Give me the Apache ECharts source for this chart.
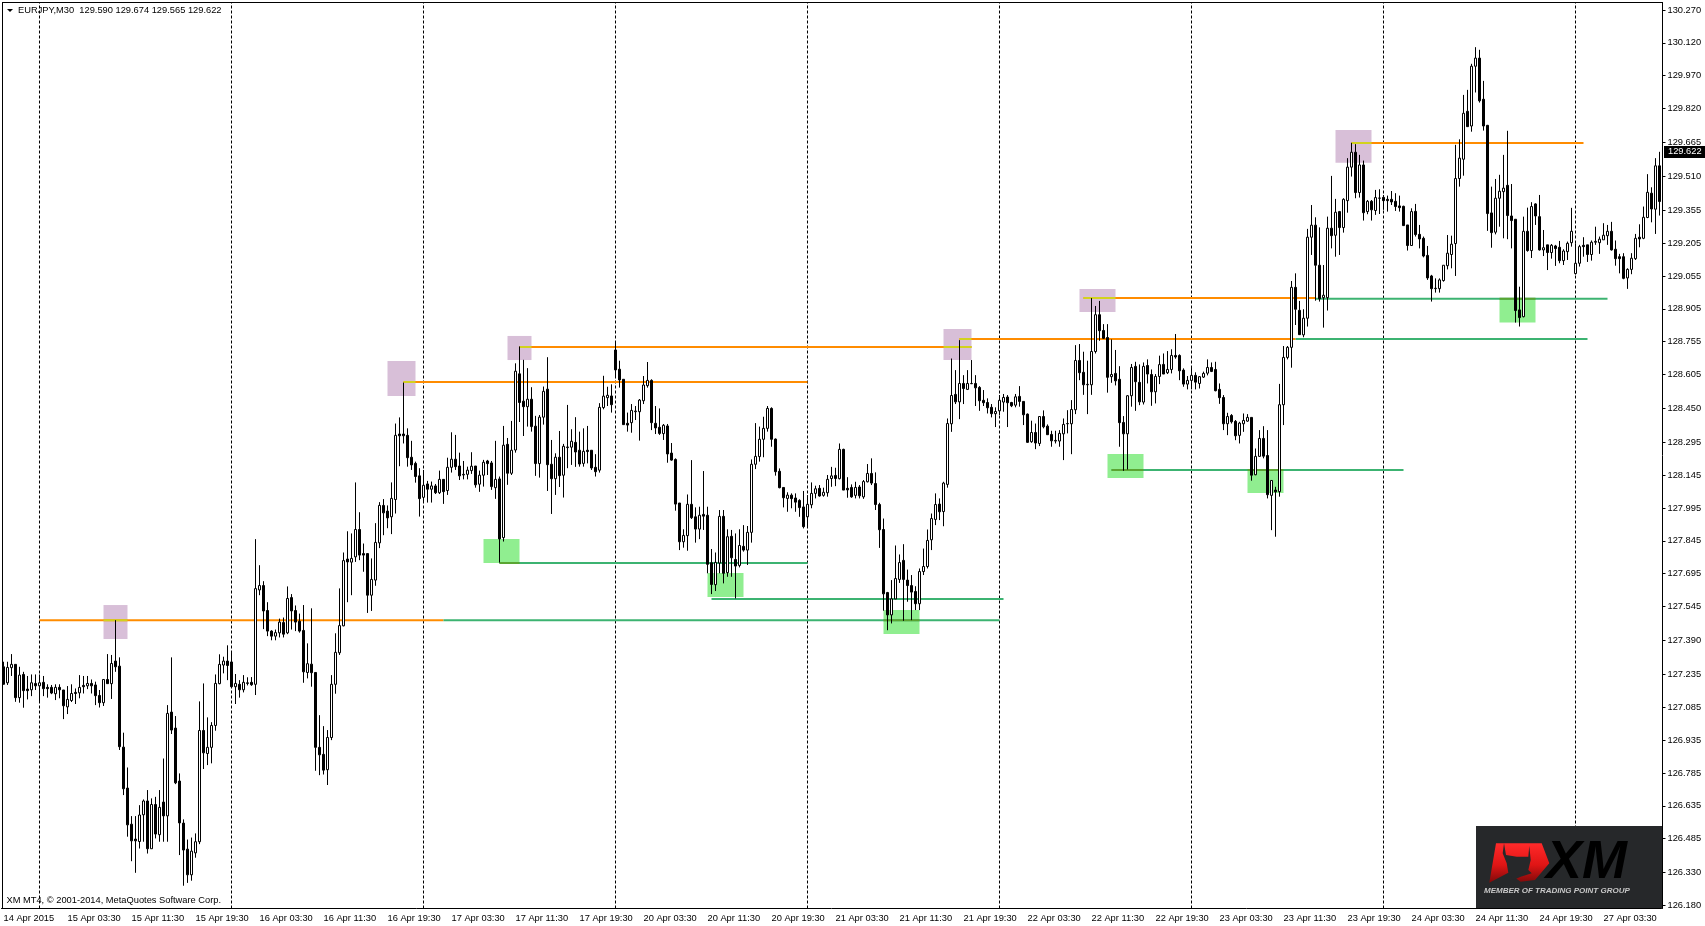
<!DOCTYPE html>
<html><head><meta charset="utf-8"><style>html,body{margin:0;padding:0;background:#fff}#c{width:1705px;height:926px}</style>
<script src="https://cdn.jsdelivr.net/npm/echarts@6/dist/echarts.min.js"></script></head><body><div id="c"></div>
<script>
// EURJPY M30 bars, one list per trading session, each bar is [open, close, low, high]
const bars14Apr=[[127.27,127.19,127.19,127.293],[127.197,127.267,127.187,127.293],[127.266,127.281,127.228,127.328],[127.281,127.129,127.11,127.281],[127.129,127.232,127.106,127.27],[127.235,127.161,127.083,127.247],[127.168,127.161,127.121,127.228],[127.165,127.197,127.136,127.235],[127.194,127.183,127.164,127.235]];
const bars15Apr=[[127.183,127.197,127.113,127.235],[127.199,127.17,127.136,127.228],[127.176,127.17,127.129,127.19],[127.176,127.15,127.145,127.187],[127.147,127.176,127.118,127.19],[127.176,127.165,127.126,127.19],[127.164,127.092,127.031,127.164],[127.087,127.121,127.054,127.182],[127.116,127.148,127.109,127.19],[127.153,127.148,127.1,127.171],[127.151,127.176,127.126,127.232],[127.185,127.179,127.148,127.228],[127.183,127.194,127.168,127.228],[127.194,127.183,127.148,127.212],[127.187,127.138,127.095,127.202],[127.139,127.106,127.084,127.164],[127.106,127.212,127.091,127.212],[127.212,127.193,127.193,127.328],[127.193,127.285,127.123,127.324],[127.296,127.27,127.247,127.483],[127.273,126.905,126.89,127.313],[126.903,126.713,126.684,126.969],[126.716,126.548,126.494,126.81],[126.551,126.475,126.382,126.588],[126.483,126.475,126.329,126.588],[126.472,126.593,126.44,126.638],[126.594,126.657,126.471,126.664],[126.657,126.439,126.417,126.707],[126.439,126.641,126.439,126.669],[126.641,126.506,126.486,126.676],[126.503,126.628,126.471,126.707],[126.652,126.589,126.471,126.851],[126.589,127.057,126.471,127.095],[127.063,126.981,126.963,127.313],[126.99,126.74,126.734,127.045],[126.748,126.557,126.41,126.783],[126.556,126.433,126.27,126.573],[126.437,126.32,126.283,126.481],[126.32,126.428,126.293,126.49],[126.42,126.471,126.398,126.509],[126.471,126.979,126.46,127.112],[126.979,126.877,126.803,127.194],[126.874,126.902,126.821,127.039],[126.902,127.002,126.829,127.017],[127.002,127.194,126.978,127.235],[127.193,127.281,127.19,127.327],[127.278,127.296,127.24,127.316],[127.296,127.276,127.209,127.368]];
const bars16Apr=[[127.292,127.179,127.176,127.342],[127.179,127.194,127.1,127.237],[127.19,127.165,127.129,127.209],[127.165,127.199,127.153,127.232],[127.194,127.197,127.185,127.222],[127.199,127.188,127.183,127.223],[127.19,127.627,127.141,127.853],[127.621,127.641,127.597,127.734],[127.641,127.525,127.442,127.661],[127.527,127.433,127.41,127.565],[127.433,127.41,127.391,127.437],[127.41,127.426,127.391,127.44],[127.425,127.474,127.404,127.49],[127.472,127.419,127.404,127.495],[127.425,127.582,127.419,127.637],[127.586,127.525,127.44,127.602],[127.527,127.474,127.433,127.55],[127.478,127.433,127.426,127.513],[127.436,127.247,127.197,127.552],[127.244,127.284,127.217,127.377],[127.282,127.243,127.179,127.537],[127.244,126.902,126.795,127.244],[126.902,126.868,126.775,127.049],[126.87,126.798,126.778,126.999],[126.8,126.947,126.73,126.981],[126.947,127.19,126.935,127.232],[127.19,127.336,127.147,127.423],[127.334,127.458,127.324,127.628],[127.457,127.755,127.455,127.792],[127.762,127.749,127.565,127.889],[127.748,127.765,127.597,127.879],[127.772,127.897,127.749,128.112],[127.897,127.78,127.757,127.976],[127.787,127.78,127.704,127.833],[127.787,127.597,127.516,127.787],[127.597,127.669,127.525,127.765],[127.666,127.838,127.64,127.926],[127.836,128.007,127.812,128.022],[128.007,127.973,127.871,128.036],[127.981,127.95,127.903,128.007],[127.955,128.039,127.876,128.112],[128.034,128.327,127.97,128.381],[128.333,128.325,128.186,128.409],[128.333,128.325,128.29,128.568],[128.327,128.225,128.184,128.359],[128.227,128.192,128.169,128.302],[128.199,128.139,128.111,128.207],[128.142,128.038,127.956,128.177]];
const bars17Apr=[[128.044,128.099,128.02,128.169],[128.105,128.081,128.02,128.119],[128.081,128.096,128.02,128.116],[128.096,128.065,128.059,128.105],[128.065,128.126,128.059,128.166],[128.126,128.07,128.014,128.126],[128.075,128.181,128.055,128.225],[128.181,128.218,128.157,128.341],[128.218,128.184,128.169,128.329],[128.187,128.142,128.123,128.248],[128.146,128.149,128.126,128.21],[128.149,128.168,128.126,128.184],[128.166,128.186,128.151,128.25],[128.187,128.101,128.088,128.187],[128.104,128.145,128.069,128.166],[128.145,128.204,128.093,128.215],[128.21,128.198,128.146,128.215],[128.201,128.093,128.078,128.21],[128.088,128.126,128.037,128.302],[128.128,127.854,127.746,128.139],[127.86,128.282,127.842,128.37],[128.286,128.154,128.101,128.315],[128.154,128.259,128.146,128.393],[128.26,128.62,128.248,128.656],[128.608,128.477,128.388,128.733],[128.483,128.458,128.324,128.672],[128.458,128.492,128.367,128.634],[128.492,128.367,128.344,128.547],[128.369,128.198,128.142,128.416],[128.198,128.41,128.134,128.42],[128.41,128.528,128.376,128.55],[128.538,128.193,128.073,128.684],[128.195,128.129,127.968,128.306],[128.129,128.227,128.055,128.245],[128.227,128.143,128.091,128.347],[128.145,128.277,128.043,128.288],[128.271,128.274,128.177,128.466],[128.273,128.3,128.192,128.355],[128.295,128.251,128.183,128.41],[128.259,128.196,128.184,128.344],[128.199,128.254,128.184,128.359],[128.259,128.253,128.199,128.37],[128.259,128.178,128.169,128.259],[128.181,128.161,128.139,128.241],[128.168,128.455,128.157,128.474],[128.454,128.506,128.446,128.599],[128.499,128.51,128.461,128.549],[128.507,128.467,128.431,128.56]];
const bars20Apr=[[128.717,128.626,128.592,128.755],[128.629,128.58,128.545,128.668],[128.583,128.376,128.376,128.583],[128.382,128.374,128.344,128.431],[128.385,128.441,128.339,128.47],[128.435,128.438,128.397,128.461],[128.435,128.488,128.303,128.493],[128.485,128.557,128.47,128.598],[128.554,128.578,128.545,128.662],[128.578,128.385,128.351,128.583],[128.382,128.361,128.333,128.461],[128.364,128.336,128.329,128.45],[128.335,128.373,128.306,128.379],[128.37,128.242,128.202,128.379],[128.246,128.214,128.211,128.292],[128.217,128.013,127.983,128.222],[128.018,127.841,127.803,128.018],[127.841,127.87,127.814,127.898],[127.869,128.012,127.8,128.057],[128.012,127.951,127.945,128.214],[127.955,127.899,127.837,127.998],[127.899,127.962,127.853,128.001],[127.966,127.958,127.895,128.164],[127.962,127.738,127.697,128.001],[127.745,127.646,127.602,127.808],[127.645,127.747,127.616,127.792],[127.744,127.957,127.697,127.986],[127.957,127.697,127.651,127.986],[127.7,127.864,127.681,127.898],[127.866,127.768,127.681,127.895],[127.76,127.73,127.582,127.879],[127.733,127.824,127.724,127.898],[127.82,127.803,127.796,127.917],[127.803,127.884,127.735,127.913],[127.884,128.195,127.837,128.217],[128.195,128.231,128.173,128.383],[128.23,128.309,128.207,128.367],[128.309,128.359,128.227,128.412],[128.359,128.45,128.344,128.461],[128.45,128.309,128.275,128.455],[128.31,128.161,128.143,128.313],[128.163,128.088,128.085,128.176],[128.089,128.042,127.998,128.089],[128.039,128.054,127.978,128.067],[128.054,128.038,127.994,128.062],[128.041,128.022,127.978,128.062],[128.03,127.997,127.955,128.035],[128,127.91,127.902,128.073]];
const bars21Apr=[[127.955,128.012,127.91,128.054],[128.01,128.062,127.994,128.112],[128.062,128.083,128.039,128.097],[128.085,128.05,128.047,128.1],[128.053,128.067,128.047,128.088],[128.065,128.126,128.047,128.146],[128.13,128.142,128.092,128.183],[128.144,128.13,128.095,128.179],[128.129,128.263,128.126,128.29],[128.263,128.077,128.077,128.266],[128.085,128.078,128.042,128.136],[128.089,128.046,128.042,128.103],[128.053,128.089,128.039,128.115],[128.091,128.051,128.039,128.1],[128.046,128.116,128.037,128.123],[128.115,128.153,128.112,128.196],[128.153,128.109,128.1,128.222],[128.107,128.011,127.986,128.158],[128.011,127.896,127.813,128.019],[127.897,127.603,127.526,127.947],[127.609,127.507,127.437,127.612],[127.507,127.58,127.468,127.666],[127.58,127.673,127.579,127.824],[127.669,127.746,127.653,127.783],[127.756,127.669,127.48,127.83],[127.666,127.641,127.567,127.714],[127.641,127.611,127.483,127.689],[127.614,127.558,127.529,127.638],[127.558,127.705,127.529,127.719],[127.705,127.728,127.689,127.81],[127.728,127.847,127.719,127.897],[127.85,127.947,127.803,127.97],[127.943,128.011,127.917,128.062],[128.013,127.978,127.94,128.039],[127.979,128.109,127.912,128.115],[128.103,128.381,128.088,128.404],[128.38,128.509,128.343,128.678],[128.514,128.48,128.47,128.625],[128.48,128.564,128.401,128.762],[128.564,128.541,128.47,128.602],[128.537,128.564,128.534,128.625],[128.563,128.564,128.561,128.671],[128.564,128.544,128.461,128.602],[128.546,128.485,128.439,128.552],[128.487,128.476,128.461,128.534],[128.477,128.453,128.427,128.496],[128.455,128.426,128.409,128.47],[128.426,128.436,128.365,128.455]];
const bars22Apr=[[128.439,128.487,128.42,128.511],[128.479,128.5,128.435,128.516],[128.502,128.476,128.365,128.511],[128.477,128.462,128.456,128.48],[128.465,128.503,128.455,128.516],[128.505,128.482,128.458,128.552],[128.482,128.421,128.374,128.482],[128.424,128.295,128.293,128.427],[128.298,128.34,128.293,128.394],[128.34,128.292,128.264,128.381],[128.29,128.413,128.278,128.413],[128.413,128.366,128.359,128.441],[128.369,128.33,128.33,128.377],[128.331,128.302,128.275,128.348],[128.301,128.304,128.29,128.348],[128.301,128.336,128.275,128.351],[128.334,128.377,128.214,128.404],[128.38,128.381,128.336,128.442],[128.38,128.445,128.241,128.488],[128.444,128.669,128.424,128.739],[128.669,128.613,128.579,128.744],[128.615,128.558,128.512,128.709],[128.558,128.56,128.424,128.668],[128.558,128.71,128.512,128.954],[128.71,128.878,128.701,128.918],[128.878,128.805,128.759,128.941],[128.806,128.77,128.767,128.835],[128.774,128.592,128.522,128.835],[128.595,128.605,128.567,128.765],[128.61,128.576,128.555,128.717],[128.583,128.385,128.275,128.643],[128.386,128.334,128.165,128.415],[128.334,128.508,128.171,128.511],[128.508,128.637,128.458,128.653],[128.642,128.572,128.439,128.663],[128.569,128.48,128.465,128.651],[128.479,128.642,128.468,128.66],[128.646,128.607,128.564,128.674],[128.605,128.526,128.462,128.628],[128.526,128.596,128.473,128.607],[128.596,128.65,128.561,128.691],[128.651,128.607,128.607,128.701],[128.613,128.628,128.607,128.712],[128.628,128.692,128.61,128.72],[128.692,128.685,128.677,128.79],[128.692,128.622,128.579,128.697],[128.625,128.561,128.549,128.633],[128.561,128.578,128.537,128.598]];
const bars23Apr=[[128.578,128.601,128.537,128.643],[128.601,128.57,128.537,128.615],[128.564,128.595,128.541,128.598],[128.593,128.61,128.589,128.618],[128.611,128.637,128.601,128.674],[128.637,128.619,128.616,128.66],[128.628,128.531,128.528,128.663],[128.537,128.499,128.471,128.564],[128.5,128.38,128.351,128.511],[128.38,128.413,128.328,128.43],[128.418,128.389,128.381,128.424],[128.391,128.325,128.305,128.397],[128.327,128.383,128.29,128.389],[128.38,128.395,128.343,128.427],[128.392,128.409,128.389,128.424],[128.409,128.145,128.12,128.409],[128.147,128.231,128.145,128.267],[128.231,128.313,128.229,128.351],[128.313,128.232,128.222,128.369],[128.235,128.056,128.039,128.351],[128.053,128.121,127.894,128.121],[128.077,128.069,127.864,128.092],[128.07,128.467,128.047,128.562],[128.467,128.683,128.374,128.735],[128.683,128.729,128.674,128.735],[128.729,129.003,128.636,129.032],[129.003,128.903,128.831,129.067],[128.898,128.787,128.786,128.941],[128.786,128.862,128.775,128.903],[128.862,129.232,128.824,129.27],[129.232,129.287,129.151,129.379],[129.287,129.104,128.942,129.323],[129.104,128.951,128.938,129.277],[128.956,128.967,128.819,129.105],[128.956,129.273,128.897,129.326],[129.273,129.239,129.181,129.512],[129.241,129.346,129.143,129.407],[129.349,129.276,129.151,129.352],[129.276,129.405,129.253,129.41],[129.399,129.552,129.344,129.593],[129.552,129.62,129.509,129.663],[129.62,129.436,129.41,129.657],[129.436,129.562,129.413,129.608],[129.562,129.344,129.308,129.582],[129.349,129.396,129.337,129.402],[129.396,129.357,129.308,129.402],[129.354,129.413,129.334,129.448],[129.41,129.411,129.338,129.451]];
const bars24Apr=[[129.414,129.399,129.357,129.425],[129.405,129.399,129.349,129.422],[129.405,129.393,129.379,129.443],[129.396,129.372,129.352,129.433],[129.375,129.367,129.349,129.422],[129.373,129.285,129.283,129.376],[129.288,129.194,129.171,129.288],[129.194,129.349,129.192,129.364],[129.35,129.244,129.235,129.384],[129.245,129.224,129.181,129.288],[129.227,129.146,129.14,129.235],[129.149,129.046,129.037,129.192],[129.055,128.997,128.938,129.06],[128.997,128.999,128.979,129.044],[128.997,129.037,128.979,129.044],[129.034,129.104,129.029,129.104],[129.102,129.159,129.085,129.242],[129.153,129.2,129.09,129.239],[129.203,129.5,129.055,129.654],[129.5,129.593,129.463,129.679],[129.588,129.798,129.513,129.882],[129.807,129.737,129.736,129.905],[129.74,130.013,129.714,130.024],[130.013,130.05,129.893,130.1],[130.05,129.855,129.847,130.088],[129.862,129.74,129.719,129.946],[129.743,129.34,129.261,129.745],[129.343,129.253,129.184,129.463],[129.255,129.41,129.245,129.498],[129.41,129.442,129.28,129.517],[129.44,129.456,129.227,129.608],[129.469,129.331,129.223,129.718],[129.329,129.308,129.181,129.475],[129.314,128.897,128.842,129.315],[128.9,128.865,128.824,129.006],[128.869,129.259,128.866,129.326],[129.259,129.171,129.166,129.367],[129.171,129.372,129.137,129.392],[129.384,129.329,129.288,129.387],[129.326,129.174,129.171,129.425],[129.174,129.184,129.146,129.265],[129.197,129.162,129.082,129.197],[129.162,129.195,129.134,129.201],[129.192,129.18,129.101,129.197],[129.186,129.125,129.113,129.215],[129.125,129.169,129.105,129.177],[129.166,129.204,129.128,129.212],[129.207,129.259,129.189,129.366]];
const bars27Apr=[[129.066,129.113,129.061,129.204],[129.113,129.189,129.098,129.197],[129.195,129.189,129.143,129.232],[129.197,129.153,129.119,129.197],[129.153,129.209,129.125,129.217],[129.209,129.213,129.197,129.28],[129.207,129.223,129.156,129.235],[129.22,129.241,129.22,129.296],[129.239,129.259,129.197,129.288],[129.259,129.174,129.171,129.302],[129.177,129.134,129.102,129.217],[129.143,129.134,129.067,129.156],[129.143,129.044,129.04,129.159],[129.046,129.085,128.996,129.09],[129.085,129.136,129.063,129.159],[129.134,129.227,129.128,129.247],[129.232,129.224,129.186,129.291],[129.227,129.323,129.223,129.372],[129.322,129.437,129.319,129.52],[129.433,129.361,129.3,129.46],[129.36,129.558,129.247,129.593],[129.558,129.395,129.331,129.622]];

const timeLabels=['14 Apr 2015','15 Apr 03:30','15 Apr 11:30','15 Apr 19:30','16 Apr 03:30','16 Apr 11:30','16 Apr 19:30','17 Apr 03:30','17 Apr 11:30','17 Apr 19:30','20 Apr 03:30','20 Apr 11:30','20 Apr 19:30','21 Apr 03:30','21 Apr 11:30','21 Apr 19:30','22 Apr 03:30','22 Apr 11:30','22 Apr 19:30','23 Apr 03:30','23 Apr 11:30','23 Apr 19:30','24 Apr 03:30','24 Apr 11:30','24 Apr 19:30','27 Apr 03:30'];
const priceTicks=[130.27,130.12,129.97,129.82,129.665,129.51,129.355,129.205,129.055,128.905,128.755,128.605,128.45,128.295,128.145,127.995,127.845,127.695,127.545,127.39,127.235,127.085,126.935,126.785,126.635,126.485,126.33,126.18];
const sessionStarts=[9,57,105,153,201,249,297,345,393];
// [first bar, last bar, upper price, lower price]
const resistanceZones=[[25,31,127.552,127.397],[96,103,128.667,128.507],[126,132,128.781,128.671],[235,242,128.813,128.671],[269,278,128.996,128.89],[333,342,129.722,129.572]];
const supportZones=[[120,129,127.854,127.744],[176,185,127.698,127.589],[220,229,127.529,127.42],[276,285,128.242,128.132],[311,320,128.169,128.064],[374,383,128.951,128.842]];
// [first bar, last bar, price]
const orangeLevels=[[9,110,127.483],[100,201,128.571],[129,242,128.731],[239,323,128.767],[270,328,128.954],[337,395,129.662]];
const greenLevels=[[110,249,127.483],[124,201,127.744],[177,250,127.58],[277,350,128.169],[323,396,128.767],[328,401,128.951]];
const orangeOverPurple=[[25,31,127.483],[100,103,128.571],[129,132,128.731],[235,242,128.731],[239,242,128.767],[270,278,128.954],[337,342,129.662]];
const greenOverGreen=[[124,129,127.744],[220,229,127.483],[277,285,128.169],[311,320,128.169],[374,383,128.951]];

const bars=[].concat(bars14Apr,bars15Apr,bars16Apr,bars17Apr,bars20Apr,bars21Apr,bars22Apr,bars23Apr,bars24Apr,bars27Apr);
const categories=bars.map((b,i)=>i%16===0?(timeLabels[i/16]||''):'b'+i);
const FONT='"Liberation Sans"';
const Y_MIN=126.166,Y_MAX=130.304;
const seg=(arr,color,z)=>arr.map(a=>({type:'line',data:[[a[0],a[2]],[a[1],a[2]]],symbol:'none',z,silent:true,animation:false,lineStyle:{color,width:2}}));
const redFill=()=>new echarts.graphic.LinearGradient(0,0,0,1,[{offset:0,color:'#FF2A2A'},{offset:0.55,color:'#E01515'},{offset:1,color:'#7E0A0A'}]);
const chart=echarts.init(document.getElementById('c'),null,{renderer:'canvas'});
const series=[
 {type:'line',data:[],z:1,silent:true,markArea:{silent:true,z:1,itemStyle:{color:'#D8BFD8',opacity:1},data:resistanceZones.map(r=>[{xAxis:r[0],yAxis:r[2]},{xAxis:r[1],yAxis:r[3]}])}},
 {type:'line',data:[],z:1,silent:true,markArea:{silent:true,z:1,itemStyle:{color:'#90EE90',opacity:1},data:supportZones.map(r=>[{xAxis:r[0],yAxis:r[2]},{xAxis:r[1],yAxis:r[3]}])}},
 ...sessionStarts.map(i=>({type:'line',data:[[i,Y_MIN],[i,Y_MAX]],symbol:'none',z:2,silent:true,animation:false,lineStyle:{color:'#000',width:1,type:[3,2]}})),
 ...seg(orangeLevels,'#FF8C00',3),...seg(greenLevels,'#3CB371',3),...seg(orangeOverPurple,'#D2D21E',4),...seg(greenOverGreen,'#5AA532',4),
 {type:'candlestick',z:6,silent:true,barWidth:2,data:bars,animation:false,itemStyle:{color:'#fff',color0:'#000',borderColor:'#000',borderColor0:'#000',borderWidth:1}}
];
chart.setOption({animation:false,
 grid:{left:1.5,top:2.5,width:1660,height:906,show:false,outerBoundsMode:'none'},
 xAxis:{type:'category',data:categories,boundaryGap:true,
  axisLine:{lineStyle:{color:'#000',width:1}},
  axisTick:{alignWithLabel:true,length:3,lineStyle:{color:'#000'},interval:i=>i%16===0},
  axisLabel:{interval:i=>i%16===0,align:'left',margin:5,color:'#000',fontFamily:FONT,fontSize:9.3,formatter:v=>v},splitLine:{show:false}},
 yAxis:{type:'value',position:'right',min:Y_MIN,max:Y_MAX,offset:1,scale:true,
  axisLine:{show:true,lineStyle:{color:'#000',width:1}},
  axisTick:{show:true,length:3,lineStyle:{color:'#000'},customValues:priceTicks},
  axisLabel:{customValues:priceTicks,margin:5,color:'#000',fontFamily:FONT,fontSize:9.3,formatter:v=>Number(v).toFixed(3),showMinLabel:true,showMaxLabel:true},splitLine:{show:false}},
 series,
 graphic:{elements:[
  {type:'rect',z:20,shape:{x:2,y:2,width:1661,height:1},style:{fill:'#000'}},
  {type:'rect',z:20,shape:{x:2,y:2,width:1,height:906},style:{fill:'#000'}},
  {type:'polygon',z:20,shape:{points:[[7,9],[13,9],[10,12]]},style:{fill:'#000'}},
  {type:'text',z:20,x:18,y:6,style:{text:'EURJPY,M30  129.590 129.674 129.565 129.622',fill:'#000',font:'9.3px '+FONT}},
  {type:'text',z:20,x:6.5,y:896,style:{text:'XM MT4, © 2001-2014, MetaQuotes Software Corp.',fill:'#000',font:'9.3px '+FONT}},
  {type:'rect',z:20,shape:{x:1664,y:146,width:41,height:12},style:{fill:'#000'}},
  {type:'text',z:20,x:1668,y:147,style:{text:'129.622',fill:'#fff',font:'9.3px '+FONT}},
  {type:'rect',z:20,shape:{x:1476,y:826,width:186,height:82},style:{fill:'#26282A'}},
  {type:'polygon',z:21,shape:{points:[[1496,843.3],[1541.7,843.3],[1549.3,863.3],[1535,880],[1520.7,881.7],[1508.3,872.7],[1489.3,882.7]]},style:{fill:redFill()}},
  {type:'polygon',z:22,shape:{points:[[1504,843.3],[1506,855],[1516.7,856.7],[1528.3,856.7],[1529.3,846],[1530.7,860],[1528.3,870],[1531.7,873.3],[1520.7,876.7],[1513.3,880],[1508.3,872.7],[1506.7,863.3],[1502.7,853.3]]},style:{fill:'#26282A'}},
  {type:'text',z:21,x:1546,y:836,style:{text:'XM',fill:new echarts.graphic.LinearGradient(0,0,0,1,[{offset:0,color:'#F2F2F2'},{offset:0.5,color:'#D8D8D8'},{offset:1,color:'#8A8A8A'}]),font:'italic bold 54px "Liberation Sans"'}},
  {type:'text',z:21,x:1484,y:887,style:{text:'MEMBER OF TRADING POINT GROUP',fill:'#C8C8C8',font:'italic bold 8px "Liberation Sans"'}}
 ]}
});
</script></body></html>
